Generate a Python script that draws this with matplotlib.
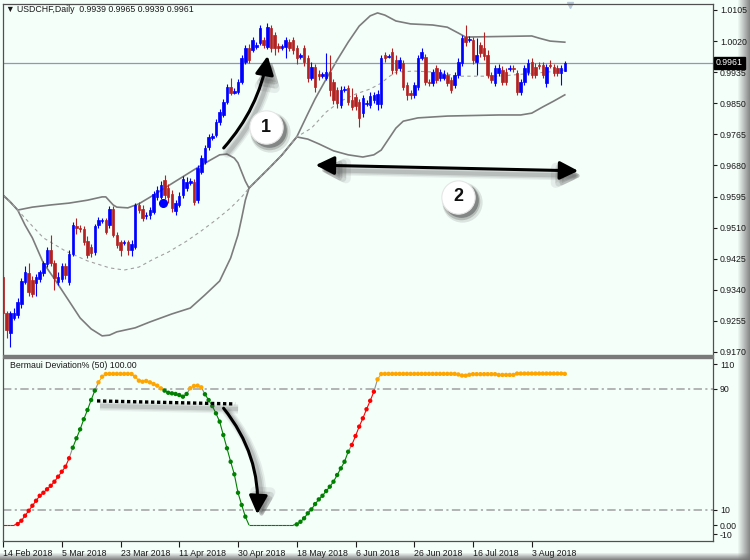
import numpy as np
import matplotlib.pyplot as plt
from matplotlib.patches import Rectangle, FancyArrowPatch
from matplotlib.collections import LineCollection
from matplotlib import transforms

plt.rcParams['font.family'] = ['Liberation Sans', 'DejaVu Sans']

# ---- USDCHF daily bars ----
opens = [0.9375, 0.9277, 0.9222, 0.9263, 0.9271, 0.9301, 0.9361, 0.9386, 0.9367, 0.9359,
         0.9370, 0.9386, 0.9411, 0.9449, 0.9413, 0.9361, 0.9370, 0.9405, 0.9361, 0.9438,
         0.9514, 0.9509, 0.9506, 0.9473, 0.9457, 0.9443, 0.9517, 0.9528, 0.9531, 0.9517,
         0.9561, 0.9490, 0.9471, 0.9468, 0.9471, 0.9449, 0.9457, 0.9572, 0.9561, 0.9542,
         0.9544, 0.9553, 0.9594, 0.9594, 0.9640, 0.9618, 0.9602, 0.9555, 0.9572, 0.9599,
         0.9618, 0.9632, 0.9635, 0.9585, 0.9662, 0.9689, 0.9730, 0.9755, 0.9763, 0.9799,
         0.9818, 0.9853, 0.9894, 0.9878, 0.9881, 0.9908, 0.9963, 1.0001, 0.9996, 1.0004,
         1.0015, 1.0023, 1.0004, 1.0056, 1.0037, 1.0006, 1.0001, 1.0004, 1.0017, 1.0023,
         1.0001, 0.9976, 1.0001, 0.9974, 0.9919, 0.9949, 0.9930, 0.9924, 0.9919, 0.9935,
         0.9908, 0.9886, 0.9845, 0.9886, 0.9892, 0.9859, 0.9867, 0.9853, 0.9823, 0.9848,
         0.9845, 0.9859, 0.9848, 0.9848, 0.9982, 0.9976, 0.9990, 0.9968, 0.9946, 0.9960,
         0.9900, 0.9878, 0.9873, 0.9894, 0.9974, 0.9976, 0.9908, 0.9905, 0.9946, 0.9919,
         0.9919, 0.9927, 0.9914, 0.9900, 0.9927, 0.9960, 1.0031, 1.0023, 1.0023, 0.9963,
         1.0009, 1.0001, 0.9982, 0.9927, 0.9905, 0.9933, 0.9941, 0.9935, 0.9944, 0.9946,
         0.9933, 0.9881, 0.9908, 0.9935, 0.9963, 0.9949, 0.9955, 0.9955, 0.9905, 0.9955,
         0.9949, 0.9946, 0.9933, 0.9939]
highs = [0.9380, 0.9282, 0.9282, 0.9290, 0.9318, 0.9372, 0.9405, 0.9413, 0.9378, 0.9383,
         0.9394, 0.9419, 0.9457, 0.9490, 0.9421, 0.9389, 0.9413, 0.9413, 0.9449, 0.9525,
         0.9536, 0.9517, 0.9514, 0.9487, 0.9465, 0.9520, 0.9539, 0.9536, 0.9536, 0.9569,
         0.9569, 0.9498, 0.9476, 0.9476, 0.9476, 0.9476, 0.9577, 0.9580, 0.9572, 0.9553,
         0.9566, 0.9610, 0.9624, 0.9637, 0.9654, 0.9629, 0.9613, 0.9585, 0.9607, 0.9651,
         0.9648, 0.9646, 0.9643, 0.9681, 0.9709, 0.9736, 0.9766, 0.9769, 0.9807, 0.9834,
         0.9862, 0.9903, 0.9919, 0.9892, 0.9916, 0.9982, 1.0009, 1.0012, 1.0031, 1.0017,
         1.0064, 1.0031, 1.0069, 1.0064, 1.0045, 1.0015, 1.0012, 1.0031, 1.0026, 1.0031,
         1.0009, 0.9987, 1.0009, 0.9982, 0.9963, 0.9957, 0.9941, 0.9935, 0.9987, 0.9982,
         0.9916, 0.9894, 0.9897, 0.9897, 0.9900, 0.9892, 0.9875, 0.9862, 0.9873, 0.9859,
         0.9881, 0.9881, 0.9886, 0.9982, 0.9990, 0.9985, 1.0001, 0.9982, 0.9976, 0.9968,
         0.9908, 0.9886, 0.9908, 0.9982, 1.0001, 0.9985, 0.9916, 0.9944, 0.9955, 0.9944,
         0.9941, 0.9935, 0.9922, 0.9935, 0.9974, 1.0037, 1.0064, 1.0034, 1.0031, 1.0028,
         1.0017, 1.0045, 0.9996, 0.9935, 0.9955, 0.9957, 0.9952, 0.9946, 0.9955, 0.9955,
         0.9941, 0.9916, 0.9955, 0.9971, 0.9974, 0.9960, 0.9963, 0.9963, 0.9957, 0.9968,
         0.9957, 0.9955, 0.9955, 0.9965]
lows = [0.9271, 0.9208, 0.9184, 0.9257, 0.9263, 0.9290, 0.9356, 0.9323, 0.9320, 0.9323,
        0.9361, 0.9378, 0.9402, 0.9405, 0.9339, 0.9353, 0.9361, 0.9370, 0.9353, 0.9432,
        0.9493, 0.9498, 0.9462, 0.9427, 0.9430, 0.9435, 0.9509, 0.9523, 0.9493, 0.9509,
        0.9484, 0.9454, 0.9432, 0.9462, 0.9435, 0.9432, 0.9451, 0.9550, 0.9528, 0.9534,
        0.9534, 0.9547, 0.9585, 0.9588, 0.9588, 0.9577, 0.9553, 0.9544, 0.9566, 0.9591,
        0.9610, 0.9627, 0.9572, 0.9577, 0.9657, 0.9684, 0.9722, 0.9750, 0.9758, 0.9791,
        0.9812, 0.9848, 0.9873, 0.9875, 0.9875, 0.9903, 0.9957, 0.9960, 0.9990, 0.9998,
        1.0009, 1.0001, 0.9998, 0.9990, 0.9982, 0.9990, 0.9996, 0.9974, 0.9993, 0.9985,
        0.9957, 0.9971, 0.9952, 0.9908, 0.9914, 0.9881, 0.9914, 0.9919, 0.9914, 0.9870,
        0.9848, 0.9837, 0.9837, 0.9881, 0.9845, 0.9832, 0.9832, 0.9785, 0.9812, 0.9842,
        0.9837, 0.9851, 0.9832, 0.9837, 0.9963, 0.9974, 0.9930, 0.9930, 0.9938, 0.9886,
        0.9859, 0.9862, 0.9864, 0.9886, 0.9968, 0.9900, 0.9897, 0.9897, 0.9905, 0.9911,
        0.9914, 0.9897, 0.9878, 0.9892, 0.9919, 0.9952, 1.0006, 1.0017, 0.9957, 0.9927,
        0.9976, 0.9968, 0.9919, 0.9905, 0.9897, 0.9924, 0.9900, 0.9900, 0.9938, 0.9935,
        0.9873, 0.9873, 0.9900, 0.9927, 0.9919, 0.9919, 0.9944, 0.9919, 0.9894, 0.9946,
        0.9924, 0.9924, 0.9900, 0.9939]
closes = [0.9277, 0.9230, 0.9277, 0.9277, 0.9307, 0.9364, 0.9389, 0.9334, 0.9329, 0.9375,
          0.9389, 0.9413, 0.9449, 0.9413, 0.9372, 0.9375, 0.9405, 0.9380, 0.9438, 0.9517,
          0.9509, 0.9506, 0.9471, 0.9435, 0.9441, 0.9514, 0.9531, 0.9531, 0.9498, 0.9561,
          0.9490, 0.9462, 0.9449, 0.9471, 0.9449, 0.9465, 0.9572, 0.9558, 0.9536, 0.9544,
          0.9558, 0.9602, 0.9613, 0.9627, 0.9599, 0.9594, 0.9564, 0.9577, 0.9596, 0.9643,
          0.9635, 0.9637, 0.9580, 0.9673, 0.9700, 0.9728, 0.9758, 0.9760, 0.9799, 0.9826,
          0.9853, 0.9894, 0.9878, 0.9883, 0.9908, 0.9974, 1.0001, 0.9968, 1.0023, 1.0009,
          1.0056, 1.0009, 1.0058, 1.0001, 1.0001, 1.0001, 1.0006, 1.0023, 1.0001, 0.9996,
          0.9974, 0.9982, 0.9963, 0.9919, 0.9949, 0.9894, 0.9924, 0.9930, 0.9935, 0.9886,
          0.9859, 0.9851, 0.9886, 0.9889, 0.9853, 0.9840, 0.9842, 0.9810, 0.9864, 0.9851,
          0.9870, 0.9873, 0.9875, 0.9974, 0.9974, 0.9979, 0.9941, 0.9941, 0.9968, 0.9894,
          0.9873, 0.9873, 0.9900, 0.9974, 0.9990, 0.9908, 0.9905, 0.9935, 0.9914, 0.9935,
          0.9930, 0.9905, 0.9886, 0.9927, 0.9963, 1.0028, 1.0017, 1.0026, 0.9968, 0.9982,
          0.9987, 0.9979, 0.9927, 0.9914, 0.9946, 0.9946, 0.9908, 0.9908, 0.9946, 0.9944,
          0.9881, 0.9908, 0.9946, 0.9960, 0.9927, 0.9927, 0.9952, 0.9927, 0.9949, 0.9952,
          0.9933, 0.9933, 0.9946, 0.9961]
last_price = 0.9961

# ---- band lines (bar index, price) ----
upper_bars = [0, 2, 4, 8, 13, 18, 23, 27, 28, 30, 31, 34, 37, 42, 44, 48, 52, 56, 59, 61,
              63, 64, 65, 66, 67, 70, 73, 76, 80, 83, 85, 88, 91, 94, 97, 100, 102, 104,
              107, 111, 117, 121, 124, 126, 144, 146, 149, 153]
upper_vals = [0.9599, 0.9580, 0.9558, 0.9566, 0.9572, 0.9577, 0.9585, 0.9594, 0.9594, 0.9572,
              0.9566, 0.9564, 0.9575, 0.9605, 0.9618, 0.9643, 0.9668, 0.9692, 0.9709, 0.9711,
              0.9700, 0.9687, 0.9662, 0.9637, 0.9618, 0.9648, 0.9678, 0.9709, 0.9758, 0.9821,
              0.9862, 0.9916, 0.9968, 1.0017, 1.0061, 1.0089, 1.0097, 1.0091, 1.0075, 1.0067,
              1.0064, 1.0058, 1.0042, 1.0031, 1.0034, 1.0028, 1.0020, 1.0017]
lower_bars = [0, 2, 4, 6, 8, 11, 14, 18, 21, 24, 27, 29, 31, 36, 40, 46, 51, 55, 59, 62,
              64, 65, 66, 67, 70, 73, 76, 80, 83, 86, 90, 94, 98, 101, 103, 105, 107, 109,
              113, 121, 135, 141, 144, 147, 150, 153]
lower_vals = [0.9599, 0.9580, 0.9558, 0.9517, 0.9482, 0.9413, 0.9370, 0.9309, 0.9263, 0.9233,
              0.9214, 0.9216, 0.9225, 0.9236, 0.9252, 0.9274, 0.9290, 0.9326, 0.9364, 0.9427,
              0.9490, 0.9536, 0.9585, 0.9618, 0.9648, 0.9678, 0.9709, 0.9758, 0.9752, 0.9739,
              0.9720, 0.9709, 0.9703, 0.9709, 0.9722, 0.9752, 0.9782, 0.9801, 0.9810, 0.9815,
              0.9818, 0.9818, 0.9823, 0.9840, 0.9856, 0.9873]
mid_bars = [0, 2, 4, 7, 11, 17, 23, 29, 33, 37, 41, 45, 50, 54, 58, 62, 65, 67, 70, 73,
            76, 80, 84, 88, 92, 96, 100, 103, 105, 107, 112, 118, 124, 135, 142, 148, 153]
mid_vals = [0.9599, 0.9580, 0.9558, 0.9525, 0.9482, 0.9446, 0.9419, 0.9400, 0.9394, 0.9402,
            0.9424, 0.9443, 0.9473, 0.9501, 0.9531, 0.9564, 0.9594, 0.9618, 0.9648, 0.9678,
            0.9709, 0.9758, 0.9782, 0.9826, 0.9856, 0.9875, 0.9889, 0.9905, 0.9922, 0.9935,
            0.9938, 0.9935, 0.9924, 0.9924, 0.9930, 0.9935, 0.9941]

# ---- Bermaui Deviation% (50) ----
deviation = [0, 0, 0, 0,
             0.7, 2.9, 6.2, 9.5, 12.8, 16.1, 19.4, 21.4, 23.7, 26.0, 28.7, 32.0, 35.3, 38.6, 44.2,
             51.2, 57.4, 63.3, 70.0, 76.1, 82.7, 88.9,
             94.4, 98.1, 99.9, 100.0, 100.0, 100.0, 100.0, 100.0, 100.0, 99.9, 98.1, 95.5, 94.8,
             95.3, 94.4, 93.3, 92.2, 90.4,
             88.9, 87.5, 87.1, 86.7, 86.0, 84.9, 86.7,
             90.5, 92.0, 92.2, 91.1,
             86.5, 82.7, 78.7, 73.9, 68.4, 59.6, 50.8, 41.9, 33.6, 21.4, 13.3, 5.6,
             0, 0, 0, 0, 0, 0, 0, 0, 0, 0, 0, 0, 0,
             0.5, 2.2, 4.5, 7.8, 10.4, 13.9, 17.0, 19.4, 22.5, 25.4, 28.7, 33.1, 37.5, 41.9, 48.5,
             53.0, 58.9, 65.1, 70.6, 76.6, 82.2, 88.2,
             96.4, 99.9,
             100.0, 100.0, 100.0, 100.0, 100.0, 100.0, 100.0, 100.0, 100.0, 100.0,
             100.0, 100.0, 100.0, 100.0, 100.0, 100.0, 100.0, 100.0, 100.0, 100.0,
             99.6, 98.9, 98.8, 99.4,
             99.8, 99.8, 99.8, 99.8, 99.8, 99.8, 99.8,
             99.3, 99.3, 99.3, 99.3, 99.3,
             100.2, 100.2, 100.2, 100.2, 100.2, 100.2, 100.2, 100.2, 100.2, 100.2, 100.2, 100.2,
             100.2, 100.0]
# colour runs of the deviation dots: (colour, number of bars)
dev_color_runs = [('r', 19), ('g', 7), ('o', 18), ('g', 7), ('o', 4), ('g', 40), ('r', 7), ('o', 52)]

date_ticks = [0, 16, 32, 48, 64, 80, 96, 112, 128, 144]
date_labels = ['14 Feb 2018', '5 Mar 2018', '23 Mar 2018', '11 Apr 2018', '30 Apr 2018',
               '18 May 2018', '6 Jun 2018', '26 Jun 2018', '16 Jul 2018', '3 Aug 2018']
price_ticks = [1.0105, 1.0020, 0.9935, 0.9850, 0.9765, 0.9680, 0.9595, 0.9510, 0.9425,
               0.9340, 0.9255, 0.9170]
dev_tick_pos = [106.5, 90, 10, 0, -6]
dev_tick_labels = ['110', '90', '10', '0.00', '-10']

MINT = '#F5FFFA'
BULL = '#0000FF'
BEAR = '#B22222'
TXT = '#1a1a1a'
FS = 6.3

fig = plt.figure(figsize=(7.5, 5.6), dpi=100)
fig.patch.set_facecolor(MINT)

# window shadow on the right and bottom edges
W, H = 750, 560
mint_rgb = np.array([0xF5, 0xFF, 0xFA]) / 255.0
bgimg = np.ones((H, W, 3)) * mint_rgb
for col in range(738, W):
    t = (col - 737) / (W - 737)
    bgimg[:, col] = mint_rgb * (1 - t) + np.array([0.5, 0.5, 0.5]) * t
for row in range(553, H):
    t = (row - 552) / (H - 552)
    bgimg[row, :] = bgimg[row, :] * (1 - t) + np.array([0.45, 0.45, 0.45]) * t
bg = fig.add_axes([0, 0, 1, 1], zorder=-10)
bg.imshow(bgimg, aspect='auto', interpolation='nearest')
bg.axis('off')

xlim = (0, 193.36)


def soft_shadow(make_patch, axis, dx, dy):
    # a few wide, faint copies give a blurred drop shadow
    for lw, a in [(7, 0.10), (5, 0.14), (3, 0.20)]:
        tr = transforms.offset_copy(axis.transData, fig=fig, x=dx, y=dy, units='dots')
        axis.add_patch(make_patch(tr, '#555555', lw, a))


# ---- main price panel ----
ax = fig.add_axes([3 / 750, 1 - 355 / 560, 710 / 750, 351 / 560])
ax.set_facecolor(MINT)
ax.set_xlim(*xlim)
ax.set_ylim(0.91617, 1.01214)

o = np.array(opens); h = np.array(highs); l = np.array(lows); c = np.array(closes)
xb = np.arange(len(c))
cols = np.where(c >= o, BULL, BEAR)

ax.plot(upper_bars, upper_vals, color='#7c7c7c', lw=1.2, zorder=1)
ax.plot(lower_bars, lower_vals, color='#7c7c7c', lw=1.2, zorder=1)
ax.plot(mid_bars, mid_vals, color='#a0a0a0', lw=0.8, ls=(0, (3, 3)), zorder=1)
ax.axhline(last_price, color='#8d9bab', lw=0.9, zorder=1.5)

ax.vlines(xb, l, h, colors=cols, lw=0.8, zorder=2)
ax.bar(xb, np.abs(c - o), bottom=np.minimum(o, c), width=0.68, color=cols,
       edgecolor=cols, linewidth=0.5, zorder=3)

ax.plot(43.6, 0.9577, 'o', color=BULL, ms=5.5, zorder=4)

ax.yaxis.tick_right()
ax.set_yticks(price_ticks)
ax.set_yticklabels(['%.4f' % p for p in price_ticks])
ax.tick_params(axis='y', direction='out', length=3, width=0.8, colors=TXT,
               labelsize=FS, pad=2)
ax.set_xticks([])
for s in ['left', 'right', 'top']:
    ax.spines[s].set_color('#505050')
    ax.spines[s].set_linewidth(0.9)
ax.spines['bottom'].set_visible(False)

ax.text(1.004, last_price, '%.4f' % last_price, transform=ax.get_yaxis_transform(),
        ha='left', va='center', fontsize=FS, color='white', clip_on=False,
        bbox=dict(facecolor='black', edgecolor='black', pad=1.2))
ax.plot(154.4, 1.0119, marker='v', color='#b8c8d8', ms=5, clip_on=False)

fig.text(6 / 750, 1 - 10 / 560, '\u25bc USDCHF,Daily  0.9939 0.9965 0.9939 0.9961',
         fontsize=FS, color=TXT, va='center', ha='left')


# annotations on the price panel
def arrow1(tr, colr, lw, a=1.0):
    return FancyArrowPatch((59.6, 0.9722), (72.2, 0.9987), transform=tr,
                           connectionstyle='arc3,rad=0.15',
                           arrowstyle='-|>,head_length=0.8,head_width=0.4',
                           mutation_scale=14, color=colr, lw=lw, alpha=a, zorder=6)


def arrow2(tr, colr, lw, a=1.0):
    return FancyArrowPatch((84.4, 0.9681), (157.4, 0.9665), transform=tr,
                           arrowstyle='<|-|>,head_length=0.8,head_width=0.4',
                           mutation_scale=14, color=colr, lw=lw, alpha=a, zorder=6)


soft_shadow(arrow1, ax, 4, -5)
soft_shadow(arrow2, ax, 4, -5)
ax.add_patch(arrow1(ax.transData, 'black', 2.2))
ax.add_patch(arrow2(ax.transData, 'black', 2.2))

for (bx, py, lab) in [(71.6, 0.9785, '1'), (123.9, 0.9594, '2')]:
    for ms, a, dx, dy in [(29, 0.12, 4, -5), (27, 0.2, 3, -4), (25, 0.35, 3, -3)]:
        tr = transforms.offset_copy(ax.transData, fig=fig, x=dx, y=dy, units='dots')
        ax.plot(bx, py, 'o', ms=ms, color='#222222', alpha=a, mew=0, transform=tr, zorder=7)
    ax.plot(bx, py, 'o', ms=24, mfc='white', mec='#e6e6e6', mew=0.8, zorder=8)
    ax.text(bx, py, lab, ha='center', va='center', fontsize=13, fontweight='bold',
            color='#111111', zorder=9)

# separator between panels
fig.patches.append(Rectangle((3 / 750, 1 - 358 / 560), 710 / 750, 3 / 560,
                             transform=fig.transFigure, color='#7a7a7a', zorder=5))

# ---- indicator panel ----
ax2 = fig.add_axes([3 / 750, 1 - 541 / 560, 710 / 750, 183 / 560])
ax2.set_facecolor(MINT)
ax2.set_xlim(*xlim)
ax2.set_ylim(-10.51, 110.48)

dev = np.array(deviation)
dc = ''.join(k * n for k, n in dev_color_runs)
cmap = {'r': '#ff0000', 'g': '#008000', 'o': '#ffa500'}
xd = np.arange(len(dev))
segs, scol = [], []
for i in range(len(dev) - 1):
    segs.append([(xd[i], dev[i]), (xd[i + 1], dev[i + 1])])
    scol.append(cmap[dc[i + 1]] if dc[i] == dc[i + 1] else '#909090')
ax2.add_collection(LineCollection(segs, colors=scol, linewidths=0.8, zorder=2))
pos = dev > 0
ax2.scatter(xd[pos], dev[pos], s=10, c=[cmap[k] for k, p in zip(dc, pos) if p],
            linewidths=0, zorder=3)

for lvl in (90, 10):
    ax2.axhline(lvl, color='#a0a0a0', lw=1.1, ls=(0, (5.5, 2.2, 1.4, 2.2)), zorder=1)

ax2.text(7 / 710, 1 - 8 / 183, 'Bermaui Deviation% (50) 100.00', transform=ax2.transAxes,
         fontsize=FS, color=TXT, va='center', ha='left')

for lw, a in [(7, 0.08), (5, 0.12), (3, 0.18)]:
    tr = transforms.offset_copy(ax2.transData, fig=fig, x=3, y=-5, units='dots')
    ax2.plot([25.6, 63.2], [82.1, 80.1], color='#555555', lw=lw, alpha=a,
             solid_capstyle='butt', transform=tr, zorder=4)
ax2.plot([25.6, 63.2], [82.1, 80.1], color='black', lw=2.4, ls=(0, (1, 0.8)), zorder=5)


def arrow3(tr, colr, lw, a=1.0):
    return FancyArrowPatch((59.6, 78.7), (69.2, 5.4), transform=tr,
                           connectionstyle='arc3,rad=-0.2',
                           arrowstyle='-|>,head_length=0.8,head_width=0.4',
                           mutation_scale=14, color=colr, lw=lw, alpha=a, zorder=6)


soft_shadow(arrow3, ax2, 4, -4)
ax2.add_patch(arrow3(ax2.transData, 'black', 2.2))

ax2.yaxis.tick_right()
ax2.set_yticks(dev_tick_pos)
ax2.set_yticklabels(dev_tick_labels)
ax2.tick_params(axis='y', direction='out', length=3, width=0.8, colors=TXT,
                labelsize=FS, pad=2)
ax2.set_xticks(date_ticks)
ax2.set_xticklabels(date_labels, ha='left')
ax2.tick_params(axis='x', direction='out', length=4, width=0.8, colors=TXT,
                labelsize=FS, pad=1.5)
for s in ['left', 'right', 'bottom']:
    ax2.spines[s].set_color('#505050')
    ax2.spines[s].set_linewidth(0.9)
ax2.spines['top'].set_visible(False)

fig.savefig('out.png', dpi=100, facecolor=fig.get_facecolor())
